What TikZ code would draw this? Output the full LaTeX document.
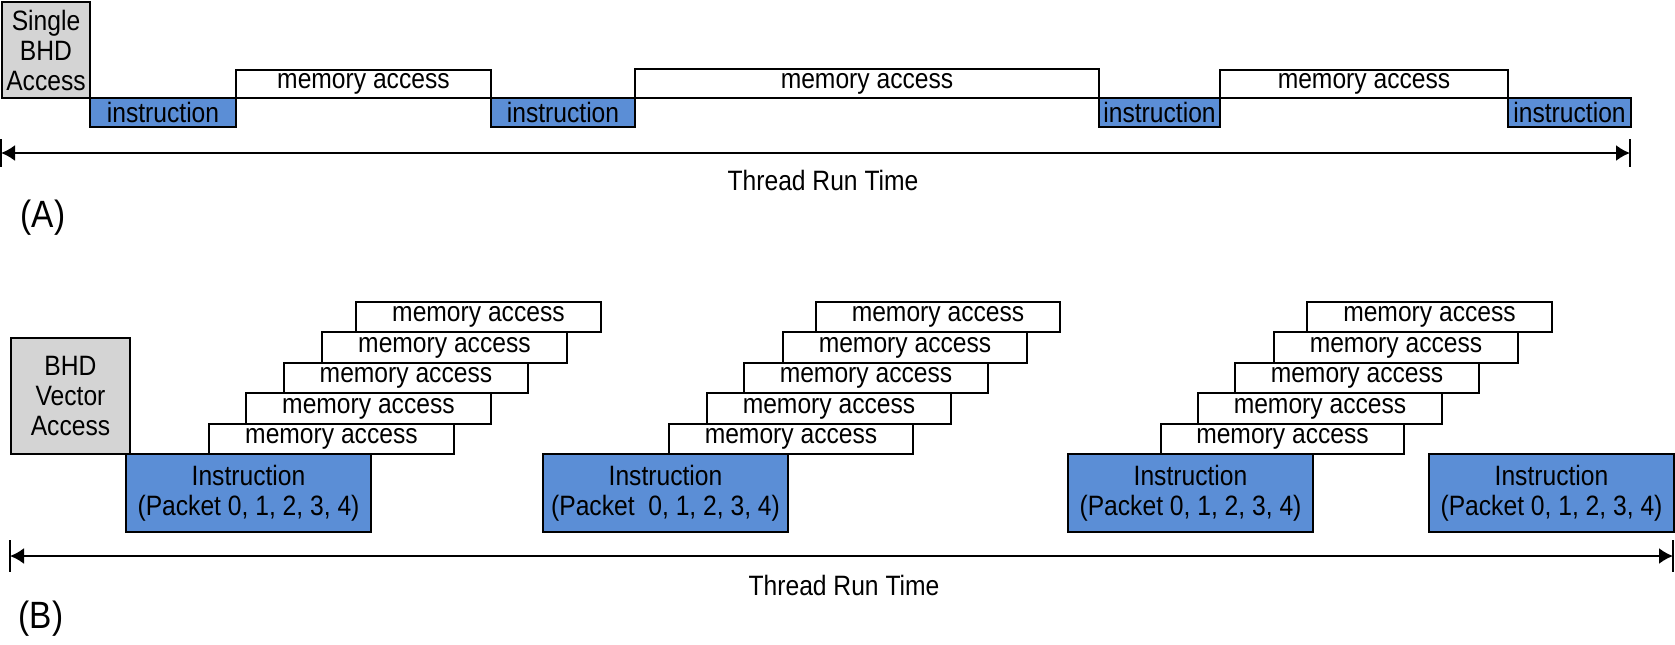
\documentclass[tikz,border=0pt]{standalone}
\usepackage{fontspec}
\setmainfont{Liberation Sans}[FakeStretch=0.88]
\usetikzlibrary{arrows.meta}
\definecolor{instblue}{HTML}{5B8ED6}
\definecolor{bhdgrey}{HTML}{D4D4D4}
\newcommand\pbox[7]{\node[#6, minimum width={(#4-#2)*0.5pt}, minimum height={(#5-#3)*0.5pt}, anchor=north west] (#1) at (#2,#3) {#7};}
\tikzset{
  base/.style={draw, line width=1pt, inner sep=0pt, align=center},
  inst/.style={base, fill=instblue},
  mem/.style={base, fill=white},
  bhd/.style={base, fill=bhdgrey},
  timeline/.style={line width=1pt, {Latex[length=7pt,width=8pt]}-{Latex[length=7pt,width=8pt]}},
  tick/.style={line width=1pt},
  lbl/.style={inner sep=0pt},
  part/.style={inner sep=0pt, font=\fontsize{19}{22}\selectfont}
}
\begin{document}
\begin{tikzpicture}[x=0.5pt, y=-0.5pt, font=\fontsize{14}{15}\selectfont]
\useasboundingbox (0,0) rectangle (1675,644);
% ---------- (A) ----------
\pbox{sA}{1}{1}{89}{97}{bhd}{Single\\BHD\\Access}
\pbox{iA1}{89}{97}{235}{126}{inst}{instruction}
\pbox{mA1}{235}{69}{490}{97}{mem}{memory access}
\pbox{iA2}{490}{97}{634}{126}{inst}{instruction}
\pbox{mA2}{634}{68}{1098}{97}{mem}{memory access}
\pbox{iA3}{1098}{97}{1219}{126}{inst}{instruction}
\pbox{mA3}{1219}{69}{1507}{97}{mem}{memory access}
\pbox{iA4}{1507}{97}{1630}{126}{inst}{instruction}
\coordinate (aL) at (1,153);
\coordinate (aR) at (1630,153);
\draw[timeline] (aL) -- (aR);
\draw[tick] ([yshift=7pt]aL) -- ([yshift=-7pt]aL);
\draw[tick] ([yshift=7pt]aR) -- ([yshift=-7pt]aR);
\node[lbl] (tA) at (823,180) {Thread Run Time};
\node[part] (pA) at (43,218) {(A)};
% ---------- (B) ----------
\pbox{vB}{10}{337}{129}{453}{bhd}{BHD\\Vector\\Access}
\pbox{iB1}{125}{453}{370}{531}{inst}{Instruction\\(Packet 0, 1, 2, 3, 4)}
\pbox{m11}{208}{423}{453}{453}{mem}{memory access}
\pbox{m12}{245}{392}{490}{423}{mem}{memory access}
\pbox{m13}{283}{362}{527}{392}{mem}{memory access}
\pbox{m14}{321}{331}{566}{362}{mem}{memory access}
\pbox{m15}{355}{301}{600}{331}{mem}{memory access}
\pbox{iB2}{542}{453}{787}{531}{inst}{Instruction\\(Packet\ \ 0, 1, 2, 3, 4)}
\pbox{m21}{668}{423}{912}{453}{mem}{memory access}
\pbox{m22}{706}{392}{950}{423}{mem}{memory access}
\pbox{m23}{743}{362}{987}{392}{mem}{memory access}
\pbox{m24}{782}{331}{1026}{362}{mem}{memory access}
\pbox{m25}{815}{301}{1059}{331}{mem}{memory access}
\pbox{iB3}{1067}{453}{1312}{531}{inst}{Instruction\\(Packet 0, 1, 2, 3, 4)}
\pbox{m31}{1160}{423}{1403}{453}{mem}{memory access}
\pbox{m32}{1197}{392}{1441}{423}{mem}{memory access}
\pbox{m33}{1234}{362}{1478}{392}{mem}{memory access}
\pbox{m34}{1273}{331}{1517}{362}{mem}{memory access}
\pbox{m35}{1306}{301}{1551}{331}{mem}{memory access}
\pbox{iB4}{1428}{453}{1673}{531}{inst}{Instruction\\(Packet 0, 1, 2, 3, 4)}
\coordinate (bL) at (10,556);
\coordinate (bR) at (1673,556);
\draw[timeline] (bL) -- (bR);
\draw[tick] ([yshift=8pt]bL) -- ([yshift=-8pt]bL);
\draw[tick] ([yshift=8pt]bR) -- ([yshift=-8pt]bR);
\node[lbl] (tB) at (844,585) {Thread Run Time};
\node[part] (pB) at (41,619) {(B)};
\end{tikzpicture}
\end{document}
